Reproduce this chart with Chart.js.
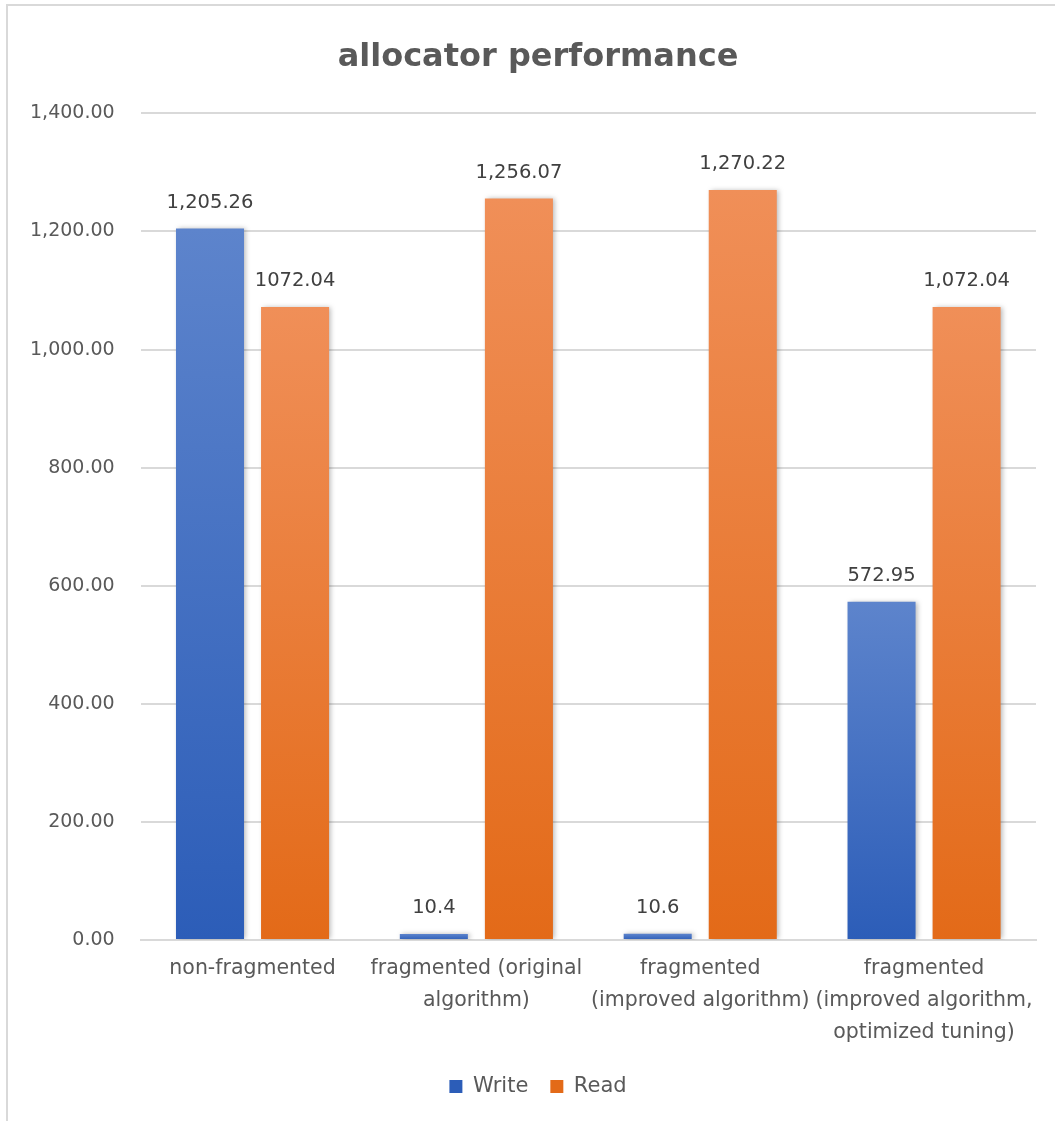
<!DOCTYPE html>
<html>
<head>
<meta charset="utf-8">
<script src="https://cdn.jsdelivr.net/npm/chart.js@4.4.1/dist/chart.umd.min.js"></script>
<style>
  html, body { margin: 0; padding: 0; background: #fff; }
  #wrap {
    position: absolute; left: 6px; top: 4px; width: 1049px; height: 1117px;
    border-left: 2px solid #d9d9d9; border-top: 2px solid #d9d9d9; box-sizing: border-box;
  }
  canvas { position: absolute; left: -8px; top: -6px; }
</style>
</head>
<body>
<div id="wrap"><canvas id="perfChart" width="1055" height="1121"></canvas></div>
<script>
const categories = [
  ['non-fragmented'],
  ['fragmented (original', 'algorithm)'],
  ['fragmented', '(improved algorithm)'],
  ['fragmented', '(improved algorithm,', 'optimized tuning)']
];
const writeValues = [1205.26, 10.4, 10.6, 572.95];
const readValues = [1072.04, 1256.07, 1270.22, 1072.04];
const writeLabels = ['1,205.26', '10.4', '10.6', '572.95'];
const readLabels = ['1072.04', '1,256.07', '1,270.22', '1,072.04'];

const FONT = "'DejaVu Sans', 'Liberation Sans', sans-serif";
const TEXT = '#595959';

// top lighter, bottom darker, one gradient per bar
function barFill(light, dark) {
  return (c) => {
    const y = c.chart.scales.y;
    if (c.type !== 'data' || !y) return dark;
    const top = y.getPixelForValue(c.raw);
    const base = y.getPixelForValue(0);
    if (!isFinite(top) || !isFinite(base) || base - top < 1) return dark;
    const g = c.chart.ctx.createLinearGradient(0, top, 0, base);
    g.addColorStop(0, light);
    g.addColorStop(1, dark);
    return g;
  };
}

const barShadow = {
  id: 'barShadow',
  beforeDatasetDraw(chart) {
    const ctx = chart.ctx;
    ctx.save();
    ctx.shadowColor = 'rgba(0,0,0,0.28)';
    ctx.shadowBlur = 5;
    ctx.shadowOffsetX = 2;
    ctx.shadowOffsetY = 0;
  },
  afterDatasetDraw(chart) {
    chart.ctx.restore();
  }
};

// the original frame is wider than the picture, so title and legend sit a bit right
const nudgeBoxes = {
  id: 'nudgeBoxes',
  afterLayout(chart) {
    [chart.titleBlock, chart.legend].forEach((b) => {
      if (b) { b.left += 18; b.right += 18; }
    });
  }
};

const valueLabels = {
  id: 'valueLabels',
  afterDatasetsDraw(chart) {
    const ctx = chart.ctx;
    const texts = [writeLabels, readLabels];
    ctx.save();
    ctx.font = '19.5px ' + FONT;
    ctx.fillStyle = '#404040';
    ctx.textAlign = 'center';
    ctx.textBaseline = 'bottom';
    chart.data.datasets.forEach((ds, i) => {
      chart.getDatasetMeta(i).data.forEach((bar, j) => {
        ctx.fillText(texts[i][j], bar.x, bar.y - 16);
      });
    });
    ctx.restore();
  }
};

new Chart(document.getElementById('perfChart'), {
  type: 'bar',
  data: {
    labels: categories,
    datasets: [
      {
        label: 'Write',
        data: writeValues,
        backgroundColor: barFill('#5d84cc', '#2c5db8')
      },
      {
        label: 'Read',
        data: readValues,
        backgroundColor: barFill('#f08f58', '#e36a18')
      }
    ]
  },
  options: {
    responsive: false,
    animation: false,
    categoryPercentage: 0.76,
    barPercentage: 0.8,
    layout: { padding: { left: 4, right: 19, top: 8, bottom: 14 } },
    plugins: {
      title: {
        display: true,
        text: 'allocator performance',
        color: TEXT,
        font: { family: FONT, size: 32, weight: 'bold' },
        padding: { top: 30, bottom: 37 }
      },
      legend: {
        position: 'bottom',
        labels: {
          color: TEXT,
          font: { family: FONT, size: 21 },
          boxWidth: 13,
          boxHeight: 13,
          padding: 22
        }
      },
      tooltip: { enabled: false }
    },
    scales: {
      x: {
        grid: { display: false },
        border: { color: '#d9d9d9', width: 2 },
        ticks: {
          color: TEXT,
          font: { family: FONT, size: 20.5, lineHeight: 1.56 },
          maxRotation: 0,
          autoSkip: false,
          padding: 5
        }
      },
      y: {
        min: 0,
        max: 1400,
        grid: { color: '#d9d9d9', lineWidth: 2, drawTicks: false },
        border: { display: false },
        ticks: {
          stepSize: 200,
          color: TEXT,
          font: { family: FONT, size: 19 },
          padding: 26,
          callback: (v) => v.toLocaleString('en-US', { minimumFractionDigits: 2, maximumFractionDigits: 2 })
        }
      }
    }
  },
  plugins: [barShadow, nudgeBoxes, valueLabels]
});
</script>
</body>
</html>
